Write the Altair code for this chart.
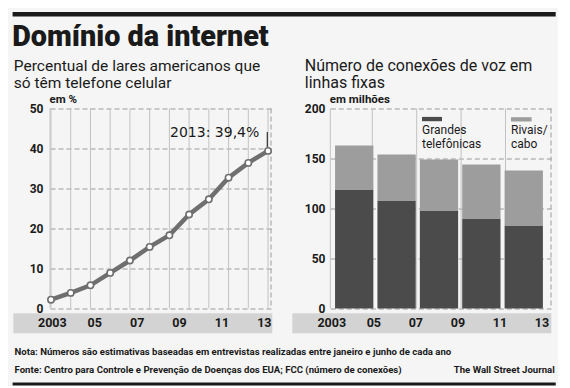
import altair as alt
import pandas as pd

# ---------------- data ----------------
# left panel: % of US households with only cell phones (12 survey points)
periodos = list(range(12))
pct = [2.2, 3.9, 5.8, 8.9, 12.0, 15.4, 18.3, 23.5, 27.3, 32.7, 36.4, 39.4]

anos_rotulo = [2003, 2005, 2007, 2009, 2011, 2013]
rotulos = ["2003", "05", "07", "09", "11", "13"]

# right panel: landline voice connections, millions
anos_barras = [2004, 2006, 2008, 2010, 2012]
grandes = [119, 108, 98, 90, 83]
rivais = [44, 46, 51, 54, 55]
divisores = [2005, 2007, 2009, 2011]

series = ["Grandes telefônicas", "Rivais/cabo"]
cores = ["#4b4b4b", "#9d9d9d"]

y_ticks_l = [0, 10, 20, 30, 40, 50]
y_ticks_r = [0, 50, 100, 150, 200]

# ---------------- styling ----------------
BG = "#f5f5f5"
INK = "#1a1a1a"
NARROW = "Roboto, Liberation Sans, sans-serif"
AXF = "Roboto, Liberation Sans, DejaVu Sans, sans-serif"
GRID = "#9a9a9a"
VLINE = "#c2c2c2"
BAND = "#d3d3d3"
LINE = "#6f6f6f"

W1, W2, H = 221, 220.7, 200

one = pd.DataFrame({"k": [0]})
df_l = pd.DataFrame({"periodo": periodos, "pct": pct})
df_lab = pd.DataFrame({"rot": anos_rotulo, "txt": rotulos})
df_div = pd.DataFrame({"ano": divisores})
df_b = pd.DataFrame(
    {
        "ano": anos_barras * 2,
        "serie": [series[0]] * len(anos_barras) + [series[1]] * len(anos_barras),
        "valor": grandes + rivais,
        "ordem": [0] * len(anos_barras) + [1] * len(anos_barras),
    }
)


def yaxis(vals, title, pad):
    return alt.Axis(
        values=vals, grid=True, gridDash=[5, 3], gridColor=GRID, gridWidth=1,
        domain=False, ticks=False, tickSize=0, labelPadding=pad,
        labelFont=AXF, labelFontSize=12, labelFontWeight="bold", labelColor=INK,
        title=title, titleAngle=0, titleAlign="left", titleBaseline="alphabetic",
        titleX=-1, titleY=-5.6, titleFont=AXF, titleFontSize=11.5,
        titleFontWeight="bold", titleColor=INK,
    )


def year_labels(domain):
    # x-axis year labels, placed through their own year scale inside the grey band
    return alt.Chart(df_lab).mark_text(
        align="center", baseline="middle", font=AXF, fontSize=12.5,
        fontWeight="bold", color=INK,
    ).encode(
        x=alt.X("rot:Q", scale=alt.Scale(domain=domain, nice=False), axis=None),
        y=alt.value(214.9),
        text="txt:N",
    )


def txt(text, x, y, size, font=NARROW, weight="normal", align="left", lh=None):
    kw = dict(text=text, align=align, baseline="alphabetic", font=font,
              fontSize=size, fontWeight=weight, color=INK)
    if lh is not None:
        kw["lineHeight"] = lh
    return alt.Chart(one).mark_text(**kw).encode(x=alt.value(x), y=alt.value(y))


def hrule(x, x2, y, w, color=INK):
    return alt.Chart(one).mark_rule(color=color, strokeWidth=w).encode(
        x=alt.value(x), x2=alt.value(x2), y=alt.value(y))


def vrule(x, color, dash=None):
    kw = dict(color=color, strokeWidth=1)
    if dash:
        kw["strokeDash"] = dash
    return alt.Chart(one).mark_rule(**kw).encode(
        x=alt.value(x), y=alt.value(0), y2=alt.value(H))


def band(x, x2):
    return alt.Chart(one).mark_rect(color=BAND).encode(
        x=alt.value(x), x2=alt.value(x2), y=alt.value(204.7), y2=alt.value(224.7))


# ---------------- left panel ----------------
xi = alt.X("periodo:Q", scale=alt.Scale(domain=[-0.05, 11.15], nice=False), axis=None)
yl = alt.Y("pct:Q", scale=alt.Scale(domain=[0, 50]), axis=yaxis(y_ticks_l, "em %", 7))

vgrid = alt.Chart(df_l).mark_rule(color=VLINE, strokeWidth=1).encode(
    x=xi, y=alt.value(0), y2=alt.value(H))
linha = alt.Chart(df_l).mark_line(color=LINE, strokeWidth=4.5).encode(x=xi, y=yl)
pontos = alt.Chart(df_l).mark_point(
    shape="circle", filled=True, fill="white", stroke=LINE, strokeWidth=1.6,
    size=40, opacity=1).encode(x=xi, y=yl)

left = alt.layer(
    band(-36.7, 222.3),
    vrule(0, VLINE),
    vgrid,
    vrule(W1, GRID, [5, 3]),
    linha,
    pontos,
    year_labels([2002.89, 2013.315]),
    txt("2013: 39,4%", 209.3, 28.4, 14, font="DejaVu Sans, Roboto, sans-serif", align="right"),
    alt.Chart(one).mark_rule(color="#333333", strokeWidth=1.2).encode(
        x=alt.value(217.3), y=alt.value(23.4), y2=alt.value(38.4)),
    # header
    hrule(-37.4, 505.7, -94.3, 4.5),
    txt("Domínio da internet", -37.8, -62.3, 28.8, weight=900),
    txt(["Percentual de lares americanos que", "só têm telefone celular"],
        -36.2, -37.8, 15.5, lh=17),
    # footer
    txt("Nota: Números são estimativas baseadas em entrevistas realizadas entre janeiro e junho de cada ano",
        -35.5, 246.7, 9.6, weight="bold"),
    txt("Fonte: Centro para Controle e Prevenção de Doenças dos EUA; FCC (número de conexões)",
        -35.5, 264, 9.6, weight="bold"),
    txt("The Wall Street Journal", 504.8, 264, 9.6, weight="bold", align="right"),
    hrule(-37.4, 505.7, 275.5, 3),
).resolve_scale(x="independent").properties(width=W1, height=H)

# ---------------- right panel ----------------
xb = alt.X("ano:Q", scale=alt.Scale(domain=[2003.108, 2013.05], nice=False), axis=None)
yr = alt.Y("valor:Q", stack="zero", scale=alt.Scale(domain=[0, 200]),
           axis=yaxis(y_ticks_r, "em milhões", 5.3))

divs = alt.Chart(df_div).mark_rule(color=VLINE, strokeWidth=1).encode(
    x=xb, y=alt.value(0), y2=alt.value(H))
barras = alt.Chart(df_b).mark_bar(size=38.3).encode(
    x=xb, y=yr,
    color=alt.Color("serie:N", scale=alt.Scale(domain=series, range=cores), legend=None),
    order=alt.Order("ordem:Q"),
)


def swatch(x, x2, y, y2, color):
    return alt.Chart(one).mark_rect(color=color).encode(
        x=alt.value(x), x2=alt.value(x2), y=alt.value(y), y2=alt.value(y2))


right = alt.layer(
    band(-38, 221),
    vrule(0, VLINE),
    divs,
    vrule(W2, GRID, [5, 3]),
    barras,
    year_labels([2002.929, 2013.43]),
    swatch(91.7, 111.7, 8.4, 12.7, cores[0]),
    swatch(180.7, 201.3, 8.7, 13.0, cores[1]),
    txt(["Grandes", "telefônicas"], 91.7, 25, 12, font=AXF, lh=14),
    txt(["Rivais/", "cabo"], 180.7, 25, 12, font=AXF, lh=14),
    txt(["Número de conexões de voz em", "linhas fixas"], -25.5, -37.8, 16, lh=17.3),
).resolve_scale(x="independent").properties(width=W2, height=H)

chart = alt.hconcat(left, right, spacing=59.3, bounds="flush").properties(
    padding={"left": 2, "top": 3.5, "right": 0, "bottom": 0},
    background=BG,
).configure_view(stroke=None)

chart.save("out.html", embed_options={"renderer": "svg", "actions": False})
